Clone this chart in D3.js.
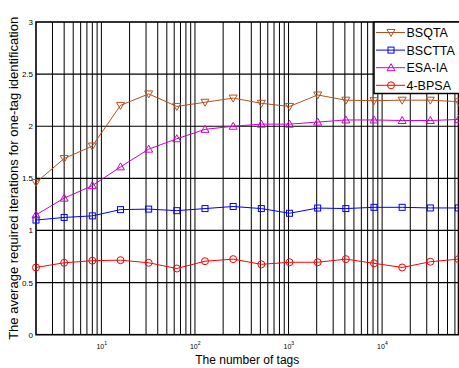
<!DOCTYPE html>
<html lang="en">
<head>
<meta charset="utf-8">
<script src="https://d3js.org/d3.v7.min.js"></script>
<style>
  body { margin: 0; background: #fff; }
  svg { font-family: "Liberation Sans", Arial, sans-serif; }
</style>
</head>
<body>
<div id="chart"></div>
<script>
const tags = [2, 4, 8, 16, 32, 64, 128, 256, 512, 1024, 2048, 4096, 8192, 16384, 32768, 65536];
const bsqta  = [1.46, 1.69, 1.81, 2.20, 2.31, 2.19, 2.23, 2.27, 2.22, 2.19, 2.30, 2.25, 2.245, 2.25, 2.25, 2.235];
const bsctta = [1.10, 1.125, 1.14, 1.20, 1.205, 1.19, 1.21, 1.23, 1.21, 1.165, 1.215, 1.21, 1.222, 1.222, 1.216, 1.216];
const esaia  = [1.15, 1.31, 1.43, 1.61, 1.78, 1.88, 1.97, 2.00, 2.02, 2.02, 2.04, 2.06, 2.06, 2.055, 2.055, 2.065];
const bpsa4  = [0.645, 0.69, 0.71, 0.715, 0.69, 0.635, 0.705, 0.725, 0.675, 0.695, 0.695, 0.725, 0.685, 0.645, 0.70, 0.725];
const yTicks = [0, 0.5, 1, 1.5, 2, 2.5, 3];
const xDecades = [1, 2, 3, 4];

const series = [
  { name: "BSQTA",  values: bsqta,  color: "#b8501e", marker: "down" },
  { name: "BSCTTA", values: bsctta, color: "#0000ff", marker: "square" },
  { name: "ESA-IA", values: esaia,  color: "#d000d0", marker: "up" },
  { name: "4-BPSA", values: bpsa4,  color: "#ff0000", marker: "circle" }
];

const width = 459, height = 368;
const plot = { left: 36, right: 458.5, top: 22, bottom: 334.7 };

const svg = d3.select("#chart").append("svg")
  .attr("width", width).attr("height", height);

const x = d3.scaleLog().domain([2, 65536]).range([plot.left, plot.right]);
const y = d3.scaleLinear().domain([0, 3]).range([plot.bottom, plot.top]);

// vertical log grid
const gridX = [];
for (let k = 0; k <= 4; k++) {
  for (let m = 1; m <= 9; m++) {
    const v = m * Math.pow(10, k);
    if (v > 2 && v < 65536) gridX.push(v);
  }
}
svg.append("g").selectAll("line").data(gridX).enter().append("line")
  .attr("x1", d => x(d)).attr("x2", d => x(d))
  .attr("y1", plot.top).attr("y2", plot.bottom)
  .attr("stroke", "#000").attr("stroke-width", 1);

// horizontal grid
svg.append("g").selectAll("line").data(yTicks.filter(d => d > 0 && d < 3)).enter().append("line")
  .attr("x1", plot.left).attr("x2", plot.right)
  .attr("y1", d => y(d)).attr("y2", d => y(d))
  .attr("stroke", "#000").attr("stroke-width", 1.2);

// frame
svg.append("rect")
  .attr("x", plot.left).attr("y", plot.top)
  .attr("width", plot.right - plot.left).attr("height", plot.bottom - plot.top)
  .attr("fill", "none").attr("stroke", "#000").attr("stroke-width", 1.6);

// y tick labels
svg.append("g").selectAll("text").data(yTicks).enter().append("text")
  .attr("x", plot.left - 3).attr("y", d => y(d) + 3)
  .attr("text-anchor", "end").attr("font-size", "8px")
  .text(d => d);

// x tick labels 10^k
const xl = svg.append("g").selectAll("text").data(xDecades).enter().append("text")
  .attr("x", d => x(Math.pow(10, d)) - 5).attr("y", 349)
  .attr("font-size", "7px");
xl.append("tspan").text("10");
xl.append("tspan").attr("dy", -4).attr("font-size", "5px").text(d => d);

// axis titles
svg.append("text")
  .attr("x", (plot.left + plot.right) / 2).attr("y", 364)
  .attr("text-anchor", "middle").attr("font-size", "12px")
  .text("The number of tags");
svg.append("text")
  .attr("transform", `translate(17.5,${(plot.top + plot.bottom) / 2}) rotate(-90)`)
  .attr("text-anchor", "middle").attr("font-size", "13px")
  .text("The average required iterations for one-tag identification");

function drawMarker(g, type, color) {
  if (type === "square") {
    g.append("rect").attr("x", -3).attr("y", -3).attr("width", 6).attr("height", 6)
      .attr("fill", "none").attr("stroke", color);
  } else if (type === "circle") {
    g.append("circle").attr("r", 3.5).attr("fill", "none").attr("stroke", color);
  } else if (type === "down") {
    g.append("path").attr("d", "M-4,-3L4,-3L0,4Z").attr("fill", "none").attr("stroke", color);
  } else {
    g.append("path").attr("d", "M-4,3L4,3L0,-4Z").attr("fill", "none").attr("stroke", color);
  }
}

const line = d3.line().x(d => x(d[0])).y(d => y(d[1]));
series.forEach(s => {
  const pts = tags.map((t, i) => [t, s.values[i]]);
  svg.append("path").datum(pts)
    .attr("d", line).attr("fill", "none")
    .attr("stroke", s.color).attr("stroke-width", 1);
  svg.append("g").selectAll("g").data(pts).enter().append("g")
    .attr("transform", d => `translate(${x(d[0])},${y(d[1])})`)
    .each(function () { drawMarker(d3.select(this), s.marker, s.color); });
});

// legend
const lg = svg.append("g");
lg.append("rect").attr("x", 374).attr("y", 22).attr("width", 90).attr("height", 71.5)
  .attr("fill", "#fff").attr("stroke", "#000").attr("stroke-width", 1.5);
series.forEach((s, i) => {
  const cy = 32.5 + i * 17.6;
  lg.append("line").attr("x1", 376).attr("x2", 405).attr("y1", cy).attr("y2", cy)
    .attr("stroke", s.color);
  const m = lg.append("g").attr("transform", `translate(391,${cy})`);
  drawMarker(m, s.marker, s.color);
  lg.append("text").attr("x", 406.5).attr("y", cy + 4.5)
    .attr("font-size", "12.5px").text(s.name);
});
</script>
</body>
</html>
